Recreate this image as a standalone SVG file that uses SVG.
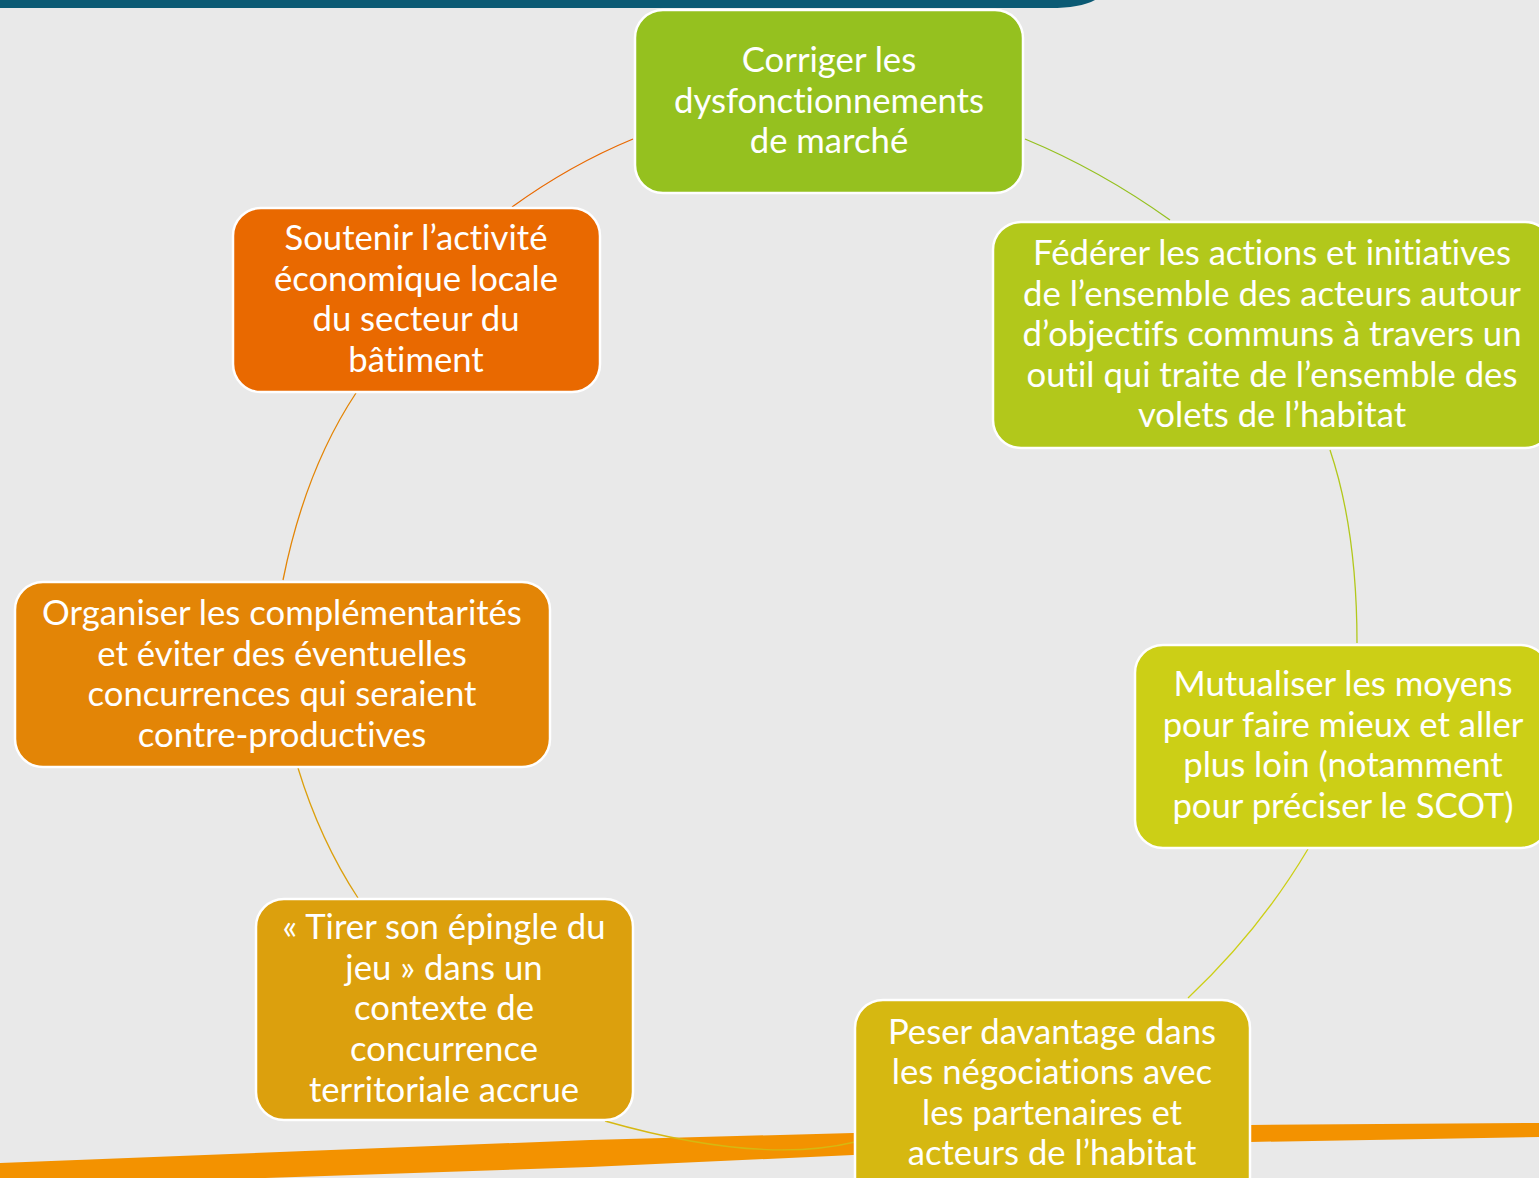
<svg xmlns="http://www.w3.org/2000/svg" width="1539" height="1178" viewBox="0 0 1539 1178">
<style>
.node rect{stroke:#ffffff;stroke-width:2.5}
.node text{font-family:Lato,"Liberation Sans",sans-serif;font-size:34.7px;fill:#ffffff;text-anchor:middle;font-variant-ligatures:none;font-feature-settings:"liga" 0}
.conn path{fill:none;stroke-width:1.3}
</style>
<rect x="0" y="0" width="1539" height="1178" fill="#e9e9e9"/>
<path d="M0,0 H1095 Q1080,8 1050,8 H0 Z" fill="#0b5a74"/>
<path d="M0,1163 L590,1140 L853,1133 L1250,1125 L1539,1123 L1539,1137 L1250,1142 L853,1155 L590,1167 L0,1187 Z" fill="#f39200"/>
<g id="connectors" class="conn">
<path d="M633,139 Q570,165 512,207" stroke="#e96900"/>
<path d="M1025,139 Q1100,170 1170,220" stroke="#95c11f"/>
<path d="M1330,450 Q1357,530 1357,643" stroke="#b2c81b"/>
<path d="M1308,849 Q1260,930 1188,998" stroke="#cccf16"/>
<path d="M855,1142 Q760,1165 605,1121" stroke="#d6b811"/>
<path d="M358,898 Q320,840 298,768" stroke="#dca00d"/>
<path d="M283,580 Q305,470 356,393" stroke="#e38506"/>
</g>
<g id="n1" class="node">
<rect x="635" y="10" width="388" height="183" rx="28" fill="#95c11f"/>
<text x="829" y="72">Corriger les</text>
<text x="829" y="113">dysfonctionnements</text>
<text x="829" y="153">de marché</text>
</g>
<g id="n2" class="node">
<rect x="993" y="222" width="560" height="226" rx="28" fill="#b2c81b"/>
<text x="1272" y="265">Fédérer les actions et initiatives</text>
<text x="1272" y="306">de l’ensemble des acteurs autour</text>
<text x="1272" y="346">d’objectifs communs à travers un</text>
<text x="1272" y="387">outil qui traite de l’ensemble des</text>
<text x="1272" y="427">volets de l’habitat</text>
</g>
<g id="n3" class="node">
<rect x="1135" y="645" width="414" height="203" rx="28" fill="#cccf16"/>
<text x="1343" y="696">Mutualiser les moyens</text>
<text x="1343" y="737">pour faire mieux et aller</text>
<text x="1343" y="777">plus loin (notamment</text>
<text x="1343" y="818">pour préciser le SCOT)</text>
</g>
<g id="n4" class="node">
<rect x="855" y="1000" width="395" height="205" rx="28" fill="#d6b811"/>
<text x="1052" y="1044">Peser davantage dans</text>
<text x="1052" y="1084">les négociations avec</text>
<text x="1052" y="1125">les partenaires et</text>
<text x="1052" y="1165">acteurs de l’habitat</text>
</g>
<g id="n5" class="node">
<rect x="256" y="899" width="377" height="221" rx="28" fill="#dca00d"/>
<text x="444" y="939">« Tirer son épingle du</text>
<text x="444" y="980">jeu » dans un</text>
<text x="444" y="1020">contexte de</text>
<text x="444" y="1061">concurrence</text>
<text x="444" y="1102">territoriale accrue</text>
</g>
<g id="n6" class="node">
<rect x="15" y="582" width="535" height="185" rx="28" fill="#e38506"/>
<text x="282" y="625">Organiser les complémentarités</text>
<text x="282" y="666">et éviter des éventuelles</text>
<text x="282" y="706">concurrences qui seraient</text>
<text x="282" y="747">contre-productives</text>
</g>
<g id="n7" class="node">
<rect x="233" y="208" width="367" height="184" rx="28" fill="#e96900"/>
<text x="416" y="250">Soutenir l’activité</text>
<text x="416" y="291">économique locale</text>
<text x="416" y="331">du secteur du</text>
<text x="416" y="372">bâtiment</text>
</g>
</svg>
